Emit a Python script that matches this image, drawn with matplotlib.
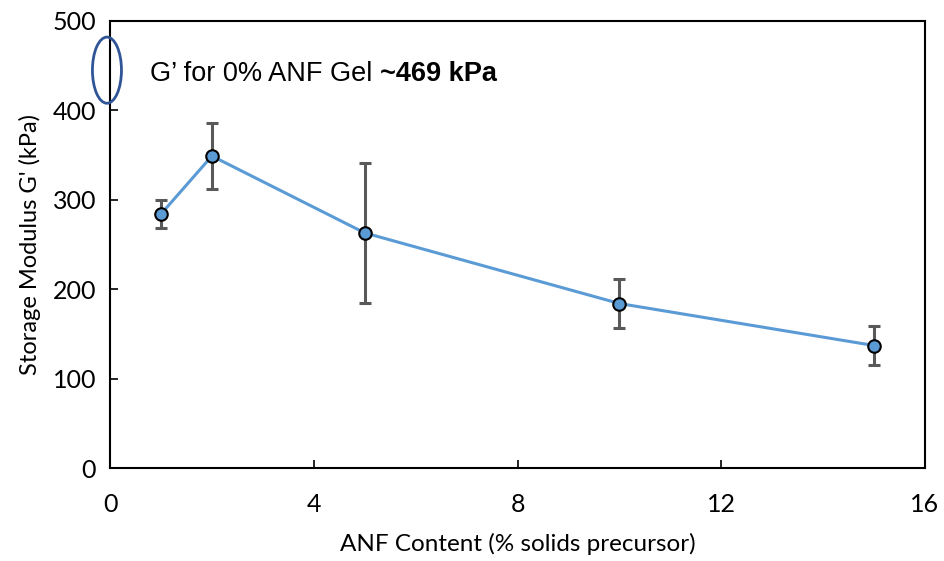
import matplotlib
matplotlib.use("Agg")
import matplotlib.pyplot as plt
from matplotlib.patches import Ellipse

anf_content = [1, 2, 5, 10, 15]
storage_modulus = [284, 349, 263, 184, 137]
error = [16, 37, 78, 27, 22]
x_ticks = [0, 4, 8, 12, 16]
y_ticks = [0, 100, 200, 300, 400, 500]

plt.rcParams['font.family'] = ['Lato', 'DejaVu Sans']

fig = plt.figure(figsize=(9.44, 5.61), dpi=100)
ax = fig.add_axes([110/944, 1 - 468/561, 815/944, 447/561])

ax.errorbar(anf_content, storage_modulus, yerr=error, fmt='none',
            ecolor='#595959', elinewidth=2.2, capsize=4.5, capthick=2.2, zorder=2)
ax.plot(anf_content, storage_modulus, color='#5B9BD5', lw=2.2, zorder=3,
        marker='o', markersize=9, markerfacecolor='#5B9BD5',
        markeredgecolor='black', markeredgewidth=1.5)

ax.set_xlim(0, 16)
ax.set_ylim(0, 500)
ax.set_xticks(x_ticks)
ax.set_yticks(y_ticks)
ax.tick_params(direction='in', length=6, width=1.2, labelsize=18, pad=10)
ax.tick_params(axis='x', pad=18)
for s in ax.spines.values():
    s.set_linewidth(1.5)
    s.set_color('black')

ax.set_xlabel('ANF Content (% solids precursor)', fontsize=17.5, labelpad=12)
ax.set_ylabel("Storage Modulus G' (kPa)", fontsize=17, labelpad=8)

ell = Ellipse((-0.06, 445), width=0.57, height=74, fill=False,
              edgecolor='#2F5597', lw=2, clip_on=False, zorder=5)
ax.add_patch(ell)

normal = ax.text(0.78, 441, "G\u2019 for 0% ANF Gel ", fontsize=19.5, va='center', ha='left',
                 family=['Liberation Sans', 'DejaVu Sans'])
fig.canvas.draw()
renderer = fig.canvas.get_renderer()
bb = normal.get_window_extent(renderer)
x1 = ax.transData.inverted().transform((bb.x1, bb.y0))[0]
ax.text(x1, 441, "~469 kPa", fontsize=19.5, fontweight='bold', va='center', ha='left',
        family=['Liberation Sans', 'DejaVu Sans'])

fig.savefig('out.png', dpi=100)
